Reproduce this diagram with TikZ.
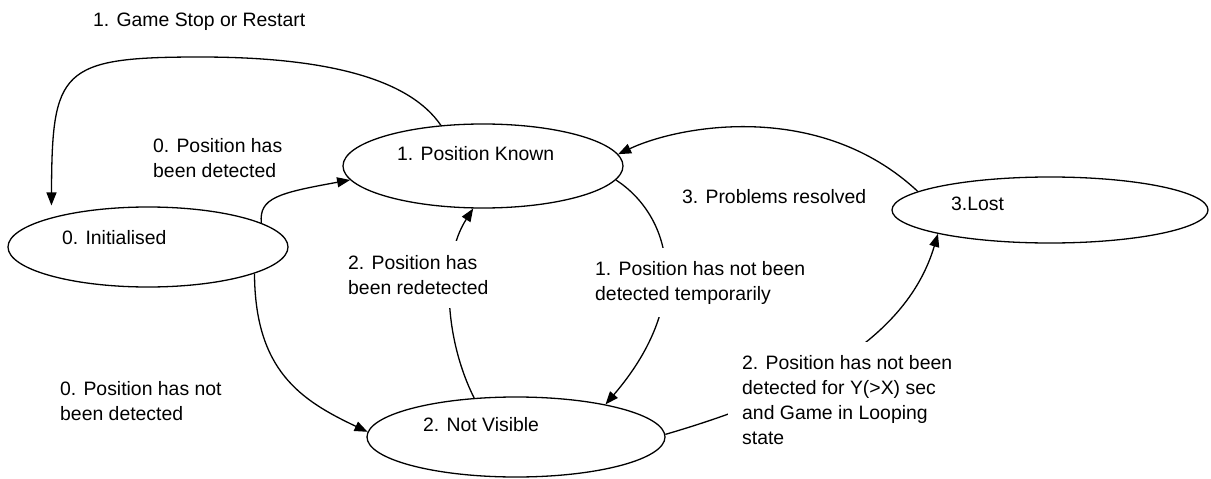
\documentclass[tikz,border=0pt]{standalone}
\usepackage{fontspec}
\setmainfont{Liberation Sans}
\usetikzlibrary{arrows.meta,shapes.geometric}
\begin{document}
\begin{tikzpicture}[x=1pt,y=-1pt,
  every node/.style={font=\fontsize{19.4}{25}\selectfont, inner sep=0pt},
  state/.style={draw, ellipse, line width=1.3pt, inner sep=0pt},
  txt/.style={anchor=base west},
  note/.style={anchor=north west, align=left},
  cover/.style={note, fill=white},
  arr/.style={line width=1.3pt, -{Triangle[length=13pt,width=10pt]}}
]
\fill[white] (0,0) rectangle (1211,479);
\useasboundingbox (0,0) rectangle (1211,479);

% states
\node[state, minimum width=280pt, minimum height=80pt] (init) at (148,247) {};
\node[state, minimum width=280pt, minimum height=84pt] (pk)   at (483,166) {};
\node[state, minimum width=298pt, minimum height=80pt] (nv)   at (516,437) {};
\node[state, minimum width=316pt, minimum height=66pt] (lost) at (1050,210) {};

% state names
\node[txt] (initT) at (62,244)  {0. Initialised};
\node[txt] (pkT)   at (397,160) {1. Position Known};
\node[txt] (nvT)   at (423,431) {2. Not Visible};
\node[txt] (lostT) at (951,210) {3.Lost};

% transitions
\draw[arr, shorten >=12pt] (pk.136) .. controls (410,80) and (330,57) .. (200,57)
      .. controls (60,57) and (52,70) .. (init.163);
\draw[arr] (init.12) .. controls (259,198) and (278,193) .. (pk.186);
\draw[arr] (init.-14) .. controls (255,370) and (300,400) .. (nv.178);
\draw[arr] (nv.137) .. controls (445,340) and (440,260) .. (pk.257);
\draw[arr] (pk.-6) .. controls (670,215) and (695,300) .. (nv.20);
\draw[arr] (nv.1) .. controls (790,398) and (905,345) .. (lost.192);
\draw[arr] (lost.172) .. controls (820,100) and (680,125) .. (pk.5);

% transition labels
\node[txt] (lStop) at (93,26) {1. Game Stop or Restart};
\node[note] (lDet) at (153,138) {0. Position has\\been detected};
\node[note] (lNot) at (60,381) {0. Position has not\\been detected};
\node[txt] (lRes) at (682,203) {3. Problems resolved};
\node[cover, inner xsep=6pt, inner ysep=14pt] (lRedet) at (342,241)
  {2. Position has\\been redetected};
\node[cover, inner xsep=6pt, inner ysep=13pt] (lTemp) at (589,248)
  {1. Position has not been\\detected temporarily};
\node[cover, inner xsep=14pt, inner ysep=13pt] (lLoop) at (728,342)
  {2. Position has not been\\detected for Y(>X) sec\\and Game in Looping\\state};
\end{tikzpicture}
\end{document}
